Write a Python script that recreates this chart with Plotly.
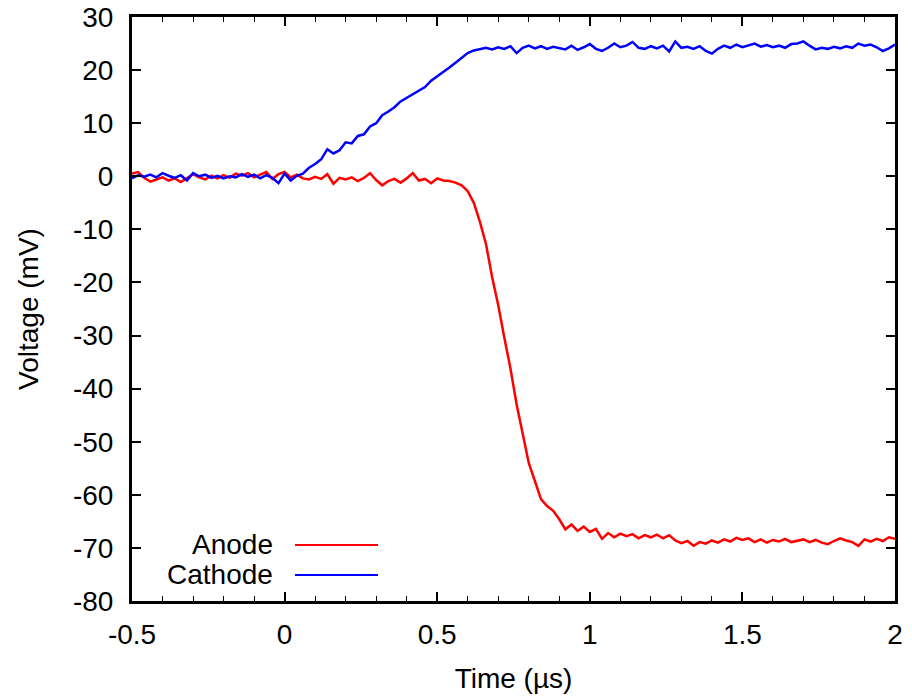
import plotly.graph_objects as go

time_us = [-0.50, -0.48, -0.46, -0.44, -0.42, -0.40, -0.38, -0.36, -0.34, -0.32,
           -0.30, -0.28, -0.26, -0.24, -0.22, -0.20, -0.18, -0.16, -0.14, -0.12,
           -0.10, -0.08, -0.06, -0.04, -0.02, 0.00, 0.02, 0.04, 0.06, 0.08,
           0.10, 0.12, 0.14, 0.16, 0.18, 0.20, 0.22, 0.24, 0.26, 0.28,
           0.30, 0.32, 0.34, 0.36, 0.38, 0.40, 0.42, 0.44, 0.46, 0.48,
           0.50, 0.52, 0.54, 0.56, 0.58, 0.60, 0.62, 0.64, 0.66, 0.68,
           0.70, 0.72, 0.74, 0.76, 0.78, 0.80, 0.82, 0.84, 0.86, 0.88,
           0.90, 0.92, 0.94, 0.96, 0.98, 1.00, 1.02, 1.04, 1.06, 1.08,
           1.10, 1.12, 1.14, 1.16, 1.18, 1.20, 1.22, 1.24, 1.26, 1.28,
           1.30, 1.32, 1.34, 1.36, 1.38, 1.40, 1.42, 1.44, 1.46, 1.48,
           1.50, 1.52, 1.54, 1.56, 1.58, 1.60, 1.62, 1.64, 1.66, 1.68,
           1.70, 1.72, 1.74, 1.76, 1.78, 1.80, 1.82, 1.84, 1.86, 1.88,
           1.90, 1.92, 1.94, 1.96, 1.98, 2.00]

anode_mv = [0.5, 0.8, -0.3, -1.0, -0.6, -0.2, -0.8, -0.4, -1.1, -0.3,
            0.4, -0.2, -0.6, 0.1, -0.4, 0.2, -0.3, 0.5, 0.1, 0.6,
            -0.2, 0.3, 0.8, -0.5, 0.4, 0.8, -0.2, 0.3, -0.4, -0.6,
            -0.1, -0.5, 0.4, -1.4, -0.3, -0.6, -0.2, -0.9, -0.3, 0.6,
            -0.7, -1.7, -0.9, -0.5, -1.2, -0.4, 0.6, -0.8, -0.5, -1.3,
            -0.4, -0.8, -0.9, -1.2, -1.7, -2.8, -5.0, -8.6, -12.8, -19.0,
            -24.3, -30.4, -36.2, -42.9, -48.6, -54.0, -57.4, -60.8, -62.1, -63.0,
            -64.6, -66.5, -65.6, -66.8, -66.0, -67.0, -66.4, -68.3, -67.2, -68.0,
            -67.3, -67.8, -67.4, -68.2, -67.6, -68.0, -67.5, -68.2, -67.6, -68.6,
            -69.1, -68.7, -69.6, -68.9, -69.2, -68.6, -69.0, -68.4, -68.8, -68.1,
            -68.5, -68.2, -68.9, -68.4, -69.0, -68.5, -68.8, -68.3, -68.9, -68.6,
            -68.4, -68.9, -68.5, -69.0, -69.3, -68.7, -68.2, -68.6, -68.9, -69.6,
            -68.4, -68.8, -68.3, -68.7, -68.0, -68.3]

cathode_mv = [-0.4, 0.2, -0.1, 0.3, -0.2, 0.6, 0.1, -0.3, 0.2, -0.8,
              0.6, 0.0, 0.3, -0.3, 0.1, -0.4, 0.0, -0.2, 0.4, -0.1,
              0.3, -0.4, 0.2, -0.3, -1.3, 0.5, -0.8, 0.1, 0.5, 1.6,
              2.3, 3.2, 5.1, 4.3, 4.9, 6.4, 6.2, 7.6, 7.9, 9.4,
              10.0, 11.5, 12.2, 13.0, 14.1, 14.8, 15.4, 16.2, 16.8, 18.0,
              18.8, 19.6, 20.5, 21.4, 22.3, 23.2, 23.7, 23.9, 24.2, 23.9,
              24.3, 24.0, 24.5, 23.2, 24.2, 24.6, 24.1, 24.5, 24.0, 24.4,
              24.1, 23.9, 24.6, 23.8, 24.3, 24.9, 24.0, 23.6, 24.2, 25.0,
              24.3, 24.6, 25.3, 24.2, 24.0, 24.5, 24.1, 24.6, 23.5, 25.4,
              24.2, 24.4, 24.0, 24.5, 23.6, 23.1, 24.0, 24.6, 24.2, 24.8,
              24.3, 24.6, 25.0, 24.4, 24.7, 24.3, 24.6, 24.2, 24.9, 25.0,
              25.4, 24.6, 23.9, 24.2, 24.0, 24.4, 24.1, 24.5, 24.2, 25.0,
              24.6, 24.8, 24.3, 23.6, 24.1, 24.8]

series_names = ["Anode", "Cathode"]
series_colors = ["#ff0000", "#0000ff"]

x_ticks = [-0.5, 0, 0.5, 1, 1.5, 2]
x_tick_labels = ["-0.5", "0", "0.5", "1", "1.5", "2"]
y_ticks = [-80, -70, -60, -50, -40, -30, -20, -10, 0, 10, 20, 30]
y_tick_labels = ["-80", "-70", "-60", "-50", "-40", "-30", "-20", "-10", "0", "10", "20", "30"]

FONT = "Liberation Sans, Arial, Helvetica, sans-serif"

fig = go.Figure()
for name, vals, col in zip(series_names, [anode_mv, cathode_mv], series_colors):
    fig.add_trace(go.Scatter(x=time_us, y=vals, mode="lines", name=name,
                             line=dict(color=col, width=2.5), showlegend=False))

axis_common = dict(
    showgrid=False, zeroline=False, showline=True, linecolor="black",
    linewidth=3, mirror="allticks", ticks="inside", ticklen=9, tickwidth=1.5,
    tickcolor="black", tickfont=dict(family=FONT, size=28, color="black"),
    automargin=False,
)

fig.update_xaxes(range=[-0.5, 2], tickvals=x_ticks, ticktext=x_tick_labels,
                 minor=dict(ticks="inside", dtick=0.1, tick0=-0.5, ticklen=5,
                            tickwidth=1.2, tickcolor="black"),
                 title=dict(text="Time (µs)", font=dict(family=FONT, size=28, color="black"),
                            standoff=20),
                 ticklabelstandoff=6,
                 **axis_common)
fig.update_yaxes(range=[-80, 30], tickvals=y_ticks, ticktext=y_tick_labels,
                 title=dict(text="Voltage (mV)", font=dict(family=FONT, size=28, color="black"),
                            standoff=27),
                 ticklabelstandoff=10,
                 **axis_common)

# legend (text on the left, sample line on the right, as in the original)
legend_y = [0.096, 0.0446]
for name, col, ly in zip(series_names, series_colors, legend_y):
    fig.add_annotation(xref="paper", yref="paper", x=0.1874, y=ly, text=name,
                       showarrow=False, xanchor="right", yanchor="middle",
                       font=dict(family=FONT, size=28, color="black"))
    fig.add_shape(type="line", xref="paper", yref="paper", x0=0.2136, x1=0.3224,
                  y0=ly, y1=ly, line=dict(color=col, width=2))

fig.update_layout(width=912, height=697, plot_bgcolor="white", paper_bgcolor="white",
                  margin=dict(l=132, r=17, t=17, b=96),
                  font=dict(family=FONT, size=28, color="black"))

fig.write_html("out.html")
